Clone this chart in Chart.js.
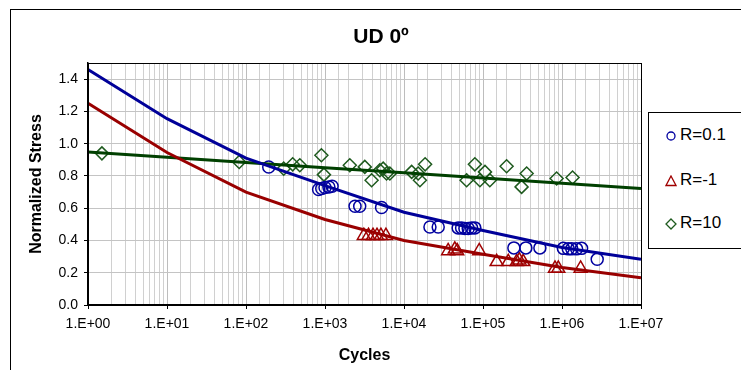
<!DOCTYPE html>
<html>
<head>
<meta charset="utf-8">
<script src="https://cdn.jsdelivr.net/npm/chart.js@4/dist/chart.umd.min.js"></script>
<style>
  html, body { margin: 0; padding: 0; background: #fff; overflow: hidden; }
  .wrap { position: relative; width: 741px; height: 370px; font-family: Arial, "Liberation Sans", sans-serif; }
  .frame { position: absolute; left: 10px; top: 9px; width: 800px; height: 400px; border: 1px solid #000; }
  canvas { position: absolute; left: 0; top: 0; }
  .title { position: absolute; left: 281px; width: 200px; top: 24px; text-align: center; font-weight: bold; font-size: 21px; }
  .legend { position: absolute; left: 648px; top: 112px; width: 110px; height: 135px; border: 1px solid #000; background: #fff; }
  .legend .item { position: absolute; left: 16px; font-size: 17px; line-height: 20px; color: #000; }
  .legend svg { vertical-align: middle; margin-right: 3px; }
</style>
</head>
<body>
<div class="wrap">
  <div class="frame"></div>
  <canvas id="sn" width="741" height="370"></canvas>
  <div class="title">UD 0º</div>
  <div class="legend">
    <div class="item" style="top:12px"><svg width="12" height="12"><circle cx="6" cy="6" r="4" fill="none" stroke="#0000a0" stroke-width="1.3"/></svg>R=0.1</div>
    <div class="item" style="top:57px"><svg width="12" height="12"><polygon points="6,1 11,10.5 1,10.5" fill="none" stroke="#a00000" stroke-width="1.3"/></svg>R=-1</div>
    <div class="item" style="top:100px"><svg width="12" height="12"><polygon points="6,1 11,6 6,11 1,6" fill="none" stroke="#1e5a1e" stroke-width="1.3"/></svg>R=10</div>
  </div>
</div>
<script>
// fatigue data, cycles to failure vs normalized max stress
const r01Cycles = [194, 830, 910, 1000, 1120, 1230, 2400, 2750, 5200, 21300, 27100, 48500, 53600, 59000, 65000, 71800, 78900, 246000, 349000, 525000, 1040000, 1200000, 1330000, 1530000, 1770000, 2790000];
const r01Stress = [0.855, 0.716, 0.722, 0.728, 0.732, 0.736, 0.612, 0.612, 0.604, 0.484, 0.484, 0.478, 0.478, 0.474, 0.474, 0.478, 0.478, 0.354, 0.354, 0.354, 0.351, 0.348, 0.348, 0.348, 0.351, 0.283];

const rm1Cycles = [3100, 3550, 4050, 4550, 5100, 5900, 36200, 44000, 47100, 89500, 149000, 209000, 267000, 288000, 323000, 815000, 897000, 1720000];
const rm1Stress = [0.43, 0.43, 0.43, 0.43, 0.43, 0.43, 0.335, 0.345, 0.335, 0.335, 0.268, 0.268, 0.268, 0.278, 0.268, 0.227, 0.227, 0.227];

const r10Cycles = [1.5, 82, 300, 390, 480, 900, 970, 2060, 3190, 3890, 4940, 5450, 6010, 6620, 12500, 15100, 15900, 18500, 62000, 78900, 91400, 106000, 122000, 199000, 308000, 357000, 855000, 1360000];
const r10Stress = [0.94, 0.886, 0.845, 0.872, 0.866, 0.928, 0.808, 0.866, 0.856, 0.773, 0.835, 0.845, 0.815, 0.815, 0.825, 0.815, 0.773, 0.872, 0.773, 0.872, 0.773, 0.825, 0.773, 0.86, 0.732, 0.815, 0.784, 0.79];

// fitted S-N curves, evaluated at each decade
const fitCycles = [1, 10, 100, 1e3, 1e4, 1e5, 1e6, 1e7];
const fitR01 = [1.46, 1.155, 0.91, 0.74, 0.575, 0.462, 0.357, 0.283];
const fitRm1 = [1.25, 0.945, 0.70, 0.53, 0.40, 0.315, 0.233, 0.169];
const fitR10 = [0.948, 0.916, 0.884, 0.851, 0.819, 0.787, 0.755, 0.722];

const yTicks = [0, 0.2, 0.4, 0.6, 0.8, 1.0, 1.2, 1.4];

const pts = (xs, ys) => xs.map((x, i) => ({ x: x, y: ys[i] }));
const isDecade = v => Math.abs(Math.log10(v) - Math.round(Math.log10(v))) < 1e-9;

const blue = '#000099', red = '#990000', green = '#004000';

// black box round the plot area
const plotFrame = {
  id: 'plotFrame',
  afterDraw(chart) {
    const a = chart.chartArea, ctx = chart.ctx;
    ctx.save();
    ctx.strokeStyle = '#000';
    ctx.lineWidth = 1;
    ctx.strokeRect(Math.round(a.left) + 0.5, Math.round(a.top) + 0.5, Math.round(a.right - a.left), Math.round(a.bottom - a.top));
    ctx.restore();
  }
};

const markerSet = (label, xs, ys, style, r, color) => ({
  label: label,
  data: pts(xs, ys),
  showLine: false,
  pointStyle: style,
  pointRadius: r,
  pointHoverRadius: r,
  pointBorderWidth: 1.5,
  borderColor: color,
  backgroundColor: 'rgba(0,0,0,0)',
  order: 2
});

const fitSet = (xs, ys, color) => ({
  data: pts(xs, ys),
  showLine: true,
  pointRadius: 0,
  borderColor: color,
  borderWidth: 3,
  tension: 0,
  order: 1
});

new Chart(document.getElementById('sn'), {
  type: 'scatter',
  data: {
    datasets: [
      markerSet('R=0.1', r01Cycles, r01Stress, 'circle', 6, '#0000a0'),
      markerSet('R=-1', rm1Cycles, rm1Stress, 'triangle', 7.5, '#a00000'),
      markerSet('R=10', r10Cycles, r10Stress, 'rectRot', 6.5, '#1e5a1e'),
      fitSet(fitCycles, fitR01, blue),
      fitSet(fitCycles, fitRm1, red),
      fitSet(fitCycles, fitR10, green)
    ]
  },
  options: {
    responsive: false,
    animation: false,
    layout: { padding: { left: 0, top: 63, right: 100, bottom: 0 } },
    plugins: {
      legend: { display: false },
      tooltip: { enabled: false }
    },
    scales: {
      x: {
        type: 'logarithmic',
        min: 1,
        max: 1e7,
        afterFit: s => { s.height = 65; },
        grid: {
          color: ctx => isDecade(ctx.tick.value) ? '#bdbdbd' : '#d0d0d0',
          tickColor: ctx => isDecade(ctx.tick.value) ? '#000' : 'rgba(0,0,0,0)',
          tickLength: 4
        },
        border: { color: '#000', width: 1.5 },
        ticks: {
          autoSkip: false,
          maxRotation: 0,
          padding: 7,
          color: '#000',
          font: { family: 'Arial, "Liberation Sans"', size: 14 },
          callback: v => isDecade(v) ? '1.E+' + String(Math.round(Math.log10(v))).padStart(2, '0') : ''
        },
        title: {
          display: true,
          text: 'Cycles',
          color: '#000',
          font: { family: 'Arial, "Liberation Sans"', size: 16, weight: 'bold' },
          padding: { top: 0, bottom: 5 }
        }
      },
      y: {
        min: 0,
        max: 1.5,
        afterFit: s => { s.width = 88; },
        afterBuildTicks: s => { s.ticks = yTicks.map(v => ({ value: v })); },
        grid: { color: '#c4c4c4', tickColor: '#000', tickLength: 4 },
        border: { color: '#000', width: 1.5 },
        ticks: {
          padding: 6,
          color: '#000',
          font: { family: 'Arial, "Liberation Sans"', size: 14 },
          callback: v => v.toFixed(1)
        },
        title: {
          display: true,
          text: 'Normalized Stress',
          color: '#000',
          font: { family: 'Arial, "Liberation Sans"', size: 16, weight: 'bold' },
          padding: { top: 27, bottom: 0 }
        }
      }
    }
  },
  plugins: [plotFrame]
});
</script>
</body>
</html>
